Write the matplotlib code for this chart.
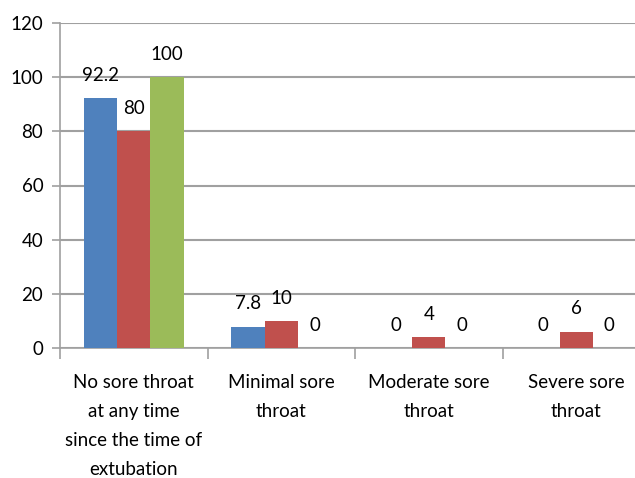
import numpy as np
import matplotlib.pyplot as plt

categories = ['No sore throat\nat any time\nsince the time of\nextubation',
              'Minimal sore\nthroat', 'Moderate sore\nthroat', 'Severe sore\nthroat']
series_a = [92.2, 7.8, 0, 0]
series_b = [80, 10, 4, 6]
series_c = [100, 0, 0, 0]
labels_a = ['92.2', '7.8', '0', '0']
labels_b = ['80', '10', '4', '6']
labels_c = ['100', '0', '0', '0']
colors = ['#4F81BD', '#C0504D', '#9BBB59']

plt.rcParams['font.family'] = ['Lato', 'DejaVu Sans']

fig = plt.figure(figsize=(6.35, 4.78), dpi=100)
ax = fig.add_axes([60/635, 130/478, 590/635, 325/478])

x = np.arange(len(categories))
w = 0.225
for i, (vals, labs) in enumerate(zip([series_a, series_b, series_c], [labels_a, labels_b, labels_c])):
    pos = x + (i - 1) * w
    ax.bar(pos, vals, w, color=colors[i], zorder=3)
    for p, v, t in zip(pos, vals, labs):
        ax.annotate(t, (p, v), xytext=(0, 16.5), textcoords='offset points',
                    ha='center', va='center', fontsize=13.5, color='black')

ax.set_xlim(-0.5, 3.5)
ax.set_ylim(0, 120)
ax.set_yticks(range(0, 121, 20))
ax.tick_params(axis='y', labelsize=13.5, length=6, color='#a0a0a0', width=1.2, pad=6)
ax.yaxis.grid(True, color='#a0a0a0', linewidth=1.5, zorder=0)

ax.set_xticks(x)
ax.set_xticklabels(categories, fontsize=13.5, linespacing=1.85, va='top')
ax.tick_params(axis='x', length=0, pad=19)
ax.set_xticks(np.arange(-0.5, 4, 1), minor=True)
ax.tick_params(axis='x', which='minor', length=8, color='#a0a0a0', width=1.2)

for s in ['top', 'right']:
    ax.spines[s].set_visible(False)
for s in ['left', 'bottom']:
    ax.spines[s].set_color('#a0a0a0')
    ax.spines[s].set_linewidth(1.2)

fig.savefig('out.png', dpi=100)
